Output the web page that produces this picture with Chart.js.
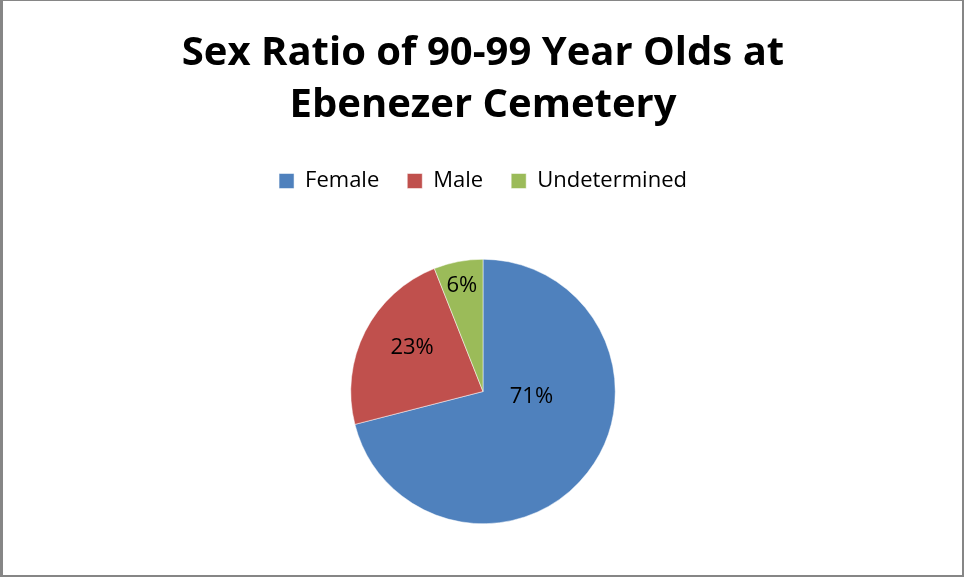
<!DOCTYPE html>
<html>
<head>
<meta charset="utf-8">
<script src="https://cdn.jsdelivr.net/npm/chart.js@4/dist/chart.umd.min.js"></script>
<style>
  html, body { margin: 0; padding: 0; background: #fff; }
  #wrap { width: 964px; height: 577px; box-sizing: border-box; border: 1px solid #868686; border-left-width: 3px; border-bottom-width: 2px; border-right-width: 2px; }
</style>
</head>
<body>
<div id="wrap"><canvas id="myChart" width="959" height="574"></canvas></div>
<script>
var categories = ["Female", "Male", "Undetermined"];
var percents = [71, 23, 6];
var colours = ["#4f81bd", "#c0504d", "#9bbb59"];

// where the % labels sit, as a fraction of the radius from the centre
var labelSpots = [[0.366, 0.04], [-0.536, -0.334], [-0.16, -0.796]];

var pieLabels = {
  id: "pieLabels",
  afterDatasetsDraw: function(chart) {
    var ctx = chart.ctx;
    var meta = chart.getDatasetMeta(0);
    ctx.save();
    ctx.font = "22px 'Open Sans'";
    ctx.fillStyle = "#000";
    ctx.textAlign = "center";
    ctx.textBaseline = "middle";
    meta.data.forEach(function(arc, i) {
      var r = arc.outerRadius;
      ctx.fillText(percents[i] + "%", arc.x + labelSpots[i][0] * r, arc.y + labelSpots[i][1] * r);
    });
    ctx.restore();
  }
};

var ctx = document.getElementById("myChart");
var myPie = new Chart(ctx, {
  type: "pie",
  data: {
    labels: categories,
    datasets: [{
      data: percents,
      backgroundColor: colours,
      borderColor: "#ffffff",
      borderWidth: 0.5
    }]
  },
  options: {
    responsive: false,
    animation: false,
    layout: { padding: { left: 1, right: 0, top: 0, bottom: 51 } },
    plugins: {
      title: {
        display: true,
        text: ["Sex Ratio of 90-99 Year Olds at", "Ebenezer Cemetery"],
        color: "#000",
        font: { family: "'Open Sans'", size: 40, weight: "bold", lineHeight: 1.3 },
        padding: { top: 27, bottom: 10 }
      },
      legend: {
        position: "top",
        weight: 1600,
        labels: {
          color: "#000",
          font: { family: "'Open Sans'", size: 22 },
          boxWidth: 15,
          boxHeight: 15,
          padding: 28
        }
      },
      // empty subtitle just keeps the gap between legend and pie
      subtitle: {
        display: true,
        text: "",
        font: { size: 10, lineHeight: 1 },
        padding: { top: 47, bottom: 0 }
      },
      tooltip: { enabled: false }
    }
  },
  plugins: [pieLabels]
});
</script>
</body>
</html>
